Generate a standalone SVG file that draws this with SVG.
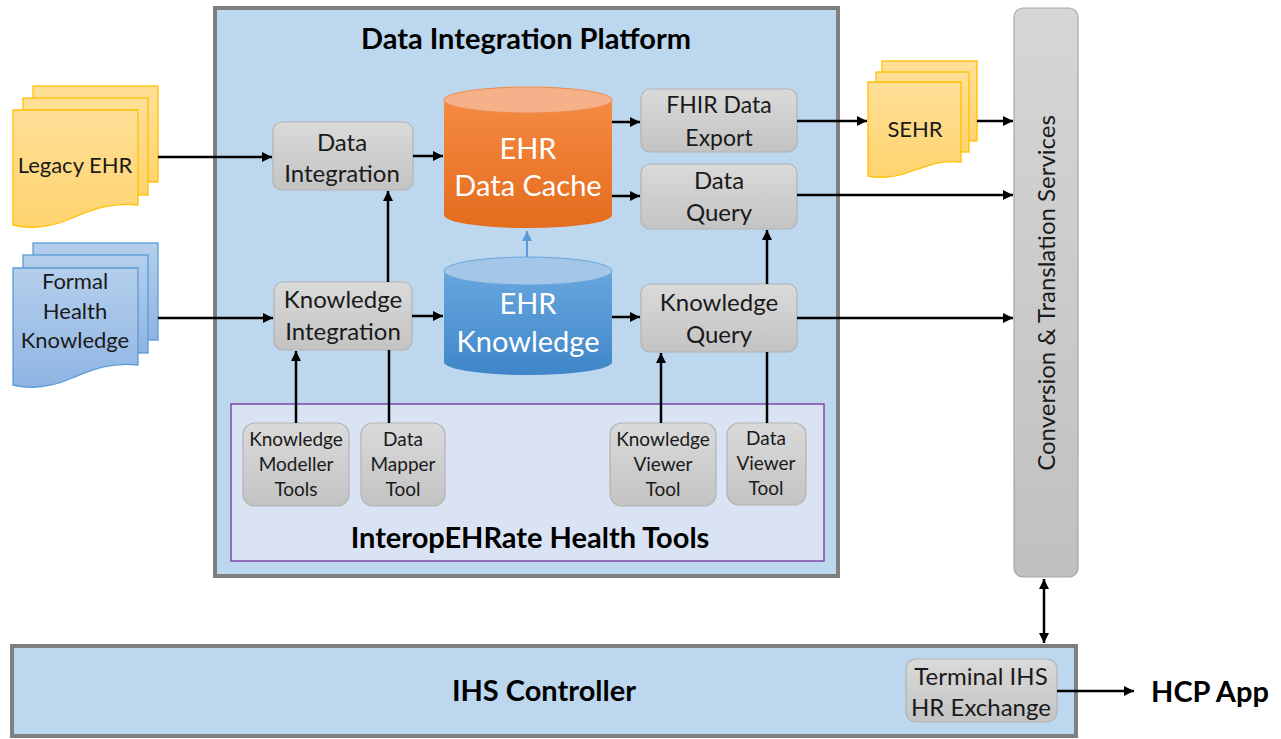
<svg xmlns="http://www.w3.org/2000/svg" width="1281" height="739" viewBox="0 0 1281 739">
<defs>
<linearGradient id="gGray" x1="0" y1="0" x2="0" y2="1"><stop offset="0" stop-color="#dadada"/><stop offset="1" stop-color="#c3c3c3"/></linearGradient>
<linearGradient id="gConv" x1="0" y1="0" x2="0" y2="1"><stop offset="0" stop-color="#d6d6d6"/><stop offset="1" stop-color="#c0c0c0"/></linearGradient>
<linearGradient id="gYel" x1="0" y1="0" x2="0" y2="1"><stop offset="0" stop-color="#ffdf98"/><stop offset="1" stop-color="#ffd46e"/></linearGradient>
<linearGradient id="gBlueDoc" x1="0" y1="0" x2="0" y2="1"><stop offset="0" stop-color="#b4cfec"/><stop offset="1" stop-color="#8fb4e3"/></linearGradient>
<linearGradient id="gOr" x1="0" y1="0" x2="0" y2="1"><stop offset="0" stop-color="#f58a42"/><stop offset="1" stop-color="#e46c1d"/></linearGradient>
<linearGradient id="gBl" x1="0" y1="0" x2="0" y2="1"><stop offset="0" stop-color="#68a6de"/><stop offset="1" stop-color="#3f86c9"/></linearGradient>
<marker id="ah" viewBox="0 0 10 10" refX="10" refY="5" markerWidth="10" markerHeight="10" markerUnits="userSpaceOnUse" orient="auto-start-reverse"><path d="M0,0 L10,5 L0,10 z" fill="#000"/></marker>
<marker id="ahb" viewBox="0 0 10 10" refX="10" refY="5" markerWidth="10" markerHeight="10" markerUnits="userSpaceOnUse" orient="auto"><path d="M0,0 L10,5 L0,10 z" fill="#5b9bd5"/></marker>
</defs>
<style>
text{font-family:Lato,"Open Sans","Liberation Sans",sans-serif;text-anchor:middle;fill:#1a1a1a}
.d{font-size:22px}
.n{font-size:24px}
.f{font-size:23px}
.s{font-size:19px}
.b{font-weight:bold;font-size:29px;fill:#000}
.w{fill:#fff;font-size:29px}
.node{fill:url(#gGray);stroke:#b3b3b3;stroke-width:1.2}
.doc{stroke:#ffc000;stroke-width:1.3;fill:url(#gYel)}
.bdoc{stroke:#5b9bd5;stroke-width:1.3;fill:url(#gBlueDoc)}
.c{stroke:#000;stroke-width:2.5;fill:none}
</style>
<rect width="1281" height="739" fill="#fff"/>

<g id="platform">
<rect x="215" y="8" width="623" height="568" fill="#bdd7ee" stroke="#7f7f7f" stroke-width="4"/>
<text class="b" x="526" y="49">Data Integration Platform</text>
</g>
<g id="health-tools">
<rect x="231" y="404" width="593" height="157" fill="#dae3f3" stroke="#7030a0" stroke-width="1.3"/>
<text class="b" x="530" y="548">InteropEHRate Health Tools</text>
</g>
<g id="conversion">
<rect x="1014" y="8" width="64" height="569" rx="9" fill="url(#gConv)" stroke="#a6a6a6" stroke-width="1.2"/>
<text class="n" transform="translate(1055,293) rotate(-90)">Conversion &amp; Translation Services</text>
</g>
<g id="ihs-controller">
<rect x="12" y="646" width="1064" height="90" fill="#bdd7ee" stroke="#7f7f7f" stroke-width="4"/>
<text class="b" x="544" y="701">IHS Controller</text>
</g>

<g id="legacy-ehr">
<rect class="doc" x="33" y="86" width="125" height="96"/>
<rect class="doc" x="23" y="98" width="125" height="97"/>
<path class="doc" d="M13,110 H138 V205 C110,202 92,210 72,218 C50,228 30,229 13,225 Z"/>
<text class="d" x="75" y="173">Legacy EHR</text>
</g>
<g id="formal-health-knowledge">
<rect class="bdoc" x="33" y="243" width="125" height="97"/>
<rect class="bdoc" x="23" y="255" width="125" height="98"/>
<path class="bdoc" d="M13,268 H138 V365 C110,362 92,370 72,378 C50,388 30,389 13,385 Z"/>
<text class="d" x="75" y="289">Formal</text>
<text class="d" x="75" y="319">Health</text>
<text class="d" x="75" y="348">Knowledge</text>
</g>
<g id="sehr">
<rect class="doc" x="882" y="61" width="95" height="80"/>
<rect class="doc" x="876" y="72" width="93" height="80"/>
<path class="doc" d="M868,82 H961 V162 C940,160 928,166 912,171 C895,178 882,179 868,176 Z"/>
<text class="d" x="915" y="137">SEHR</text>
</g>

<g id="data-integration">
<rect class="node" x="273" y="122" width="140" height="68" rx="9"/>
<text class="n" x="342" y="151">Data</text>
<text class="n" x="342" y="182">Integration</text>
</g>
<g id="knowledge-integration">
<rect class="node" x="274" y="282" width="138" height="68" rx="9"/>
<text class="n" x="343" y="308">Knowledge</text>
<text class="n" x="343" y="340">Integration</text>
</g>
<g id="ehr-data-cache">
<path d="M444,100 V215 A84,13 0 0 0 612,215 V100 Z" fill="url(#gOr)"/>
<ellipse cx="528" cy="100" rx="84" ry="13" fill="#f6b08a" stroke="#f08a48" stroke-width="1"/>
<text class="w" x="528" y="159">EHR</text>
<text class="w" x="528" y="196">Data Cache</text>
</g>
<g id="ehr-knowledge">
<path d="M444,271 V362 A84,13 0 0 0 612,362 V271 Z" fill="url(#gBl)"/>
<ellipse cx="528" cy="271" rx="84" ry="14" fill="#a4c6e8" stroke="#6aa6dc" stroke-width="1"/>
<text class="w" x="528" y="314">EHR</text>
<text class="w" x="528" y="352">Knowledge</text>
</g>
<g id="fhir-data-export">
<rect class="node" x="641" y="89" width="156" height="63" rx="9"/>
<text class="f" x="719" y="113">FHIR Data</text>
<text class="f" x="719" y="146">Export</text>
</g>
<g id="data-query">
<rect class="node" x="641" y="164" width="156" height="65" rx="9"/>
<text class="n" x="719" y="189">Data</text>
<text class="n" x="719" y="221">Query</text>
</g>
<g id="knowledge-query">
<rect class="node" x="641" y="284" width="156" height="68" rx="9"/>
<text class="n" x="719" y="311">Knowledge</text>
<text class="n" x="719" y="343">Query</text>
</g>
<g id="knowledge-modeller-tools">
<rect class="node" x="243" y="423" width="106" height="83" rx="12"/>
<text class="s" x="296" y="446">Knowledge</text>
<text class="s" x="296" y="471">Modeller</text>
<text class="s" x="296" y="496">Tools</text>
</g>
<g id="data-mapper-tool">
<rect class="node" x="361" y="423" width="84" height="83" rx="12"/>
<text class="s" x="403" y="446">Data</text>
<text class="s" x="403" y="471">Mapper</text>
<text class="s" x="403" y="496">Tool</text>
</g>
<g id="knowledge-viewer-tool">
<rect class="node" x="610" y="423" width="106" height="83" rx="12"/>
<text class="s" x="663" y="446">Knowledge</text>
<text class="s" x="663" y="471">Viewer</text>
<text class="s" x="663" y="496">Tool</text>
</g>
<g id="data-viewer-tool">
<rect class="node" x="727" y="423" width="79" height="82" rx="12"/>
<text class="s" x="766" y="445">Data</text>
<text class="s" x="766" y="470">Viewer</text>
<text class="s" x="766" y="495">Tool</text>
</g>
<g id="terminal-ihs">
<rect class="node" x="906" y="659" width="151" height="63" rx="10"/>
<text class="n" x="981" y="685">Terminal IHS</text>
<text class="n" x="981" y="716">HR Exchange</text>
</g>
<g id="hcp-app">
<text class="b" x="1210" y="702">HCP App</text>
</g>

<g id="connectors">
<path class="c" d="M158,157 H272" marker-end="url(#ah)"/>
<path class="c" d="M158,318 H273" marker-end="url(#ah)"/>
<path class="c" d="M413,156 H443" marker-end="url(#ah)"/>
<path class="c" d="M412,316 H443" marker-end="url(#ah)"/>
<path class="c" d="M612,122 H640" marker-end="url(#ah)"/>
<path class="c" d="M612,196 H640" marker-end="url(#ah)"/>
<path class="c" d="M612,317 H640" marker-end="url(#ah)"/>
<path class="c" d="M797,121 H867" marker-end="url(#ah)"/>
<path class="c" d="M977,121 H1013" marker-end="url(#ah)"/>
<path class="c" d="M797,195 H1013" marker-end="url(#ah)"/>
<path class="c" d="M797,318 H1013" marker-end="url(#ah)"/>
<path class="c" d="M388,282 V191" marker-end="url(#ah)"/>
<path class="c" d="M767,284 V230" marker-end="url(#ah)"/>
<path class="c" d="M296,423 V351" marker-end="url(#ah)"/>
<path class="c" d="M389,423 V350"/>
<path class="c" d="M661,423 V353" marker-end="url(#ah)"/>
<path class="c" d="M767,423 V352"/>
<path class="c" d="M1044,579 V643" marker-start="url(#ah)" marker-end="url(#ah)"/>
<path class="c" d="M1057,691 H1134" marker-end="url(#ah)"/>
<path d="M527,257 V231" stroke="#5b9bd5" stroke-width="2" fill="none" marker-end="url(#ahb)"/>
</g>
</svg>
